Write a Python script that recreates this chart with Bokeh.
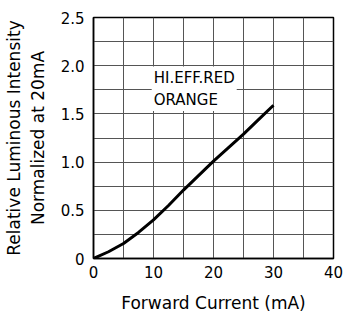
from bokeh.plotting import figure
from bokeh.models import FixedTicker, Label, Range1d
from bokeh.embed import file_html
from bokeh.resources import INLINE

# Data
current = [0, 2.5, 5, 7.5, 10, 12.5, 15, 17.5, 20, 22.5, 25, 27.5, 30]
intensity = [0, 0.07, 0.155, 0.27, 0.40, 0.55, 0.71, 0.86, 1.01, 1.15, 1.29, 1.44, 1.59]

x_ticks = [0, 10, 20, 30, 40]
x_minor = [5, 15, 25, 35]
y_ticks = [0, 0.5, 1.0, 1.5, 2.0, 2.5]
y_minor = [0.25, 0.75, 1.25, 1.75, 2.25]
y_labels = {0: "0", 0.5: "0.5", 1.0: "1.0", 1.5: "1.5", 2.0: "2.0", 2.5: "2.5"}
series_labels = ["HI.EFF.RED", "ORANGE"]

FONT = "DejaVu Sans"
GRID = "#555555"

p = figure(width=348, height=318, output_backend="svg", toolbar_location=None,
           x_range=Range1d(0, 40), y_range=Range1d(0, 2.5),
           min_border_left=91, min_border_right=15, min_border_top=17, min_border_bottom=60)
p.background_fill_color = "white"
p.border_fill_color = "white"
p.outline_line_color = "black"
p.outline_line_width = 1.5

p.xaxis.ticker = FixedTicker(ticks=x_ticks, minor_ticks=x_minor)
p.yaxis.ticker = FixedTicker(ticks=y_ticks, minor_ticks=y_minor)
p.yaxis.major_label_overrides = y_labels

for g in (p.xgrid, p.ygrid):
    g.grid_line_color = GRID
    g.grid_line_width = 1
    g.grid_line_alpha = 1
    g.minor_grid_line_color = GRID
    g.minor_grid_line_width = 1
    g.minor_grid_line_alpha = 1

for ax in (p.xaxis, p.yaxis):
    ax.major_tick_line_color = None
    ax.minor_tick_line_color = None
    ax.major_tick_out = 0
    ax.major_tick_in = 0
    ax.minor_tick_out = 0
    ax.minor_tick_in = 0
    ax.axis_line_color = "black"
    ax.axis_line_width = 1.5
    ax.major_label_text_font = FONT
    ax.major_label_text_font_size = "15px"
    ax.major_label_text_color = "black"
    ax.axis_label_text_font = FONT
    ax.axis_label_text_font_size = "17px"
    ax.axis_label_text_font_style = "normal"
    ax.axis_label_text_color = "black"

p.xaxis.major_label_standoff = 7
p.yaxis.major_label_standoff = 9
p.xaxis.axis_label = "Forward Current (mA)"
p.yaxis.axis_label = "Relative Luminous Intensity\nNormalized at 20mA"
p.xaxis.axis_label_standoff = 12
p.yaxis.axis_label_standoff = 10

p.line(current, intensity, line_color="black", line_width=3)

p.add_layout(Label(x=9.7, y=1.76, text="\n".join(series_labels), text_font=FONT,
                   text_font_size="15px", text_baseline="middle", text_color="black",
                   text_line_height=1.25,
                   background_fill_color="white", background_fill_alpha=1,
                   padding=2))

open("out.html", "w").write(file_html(p, INLINE))
